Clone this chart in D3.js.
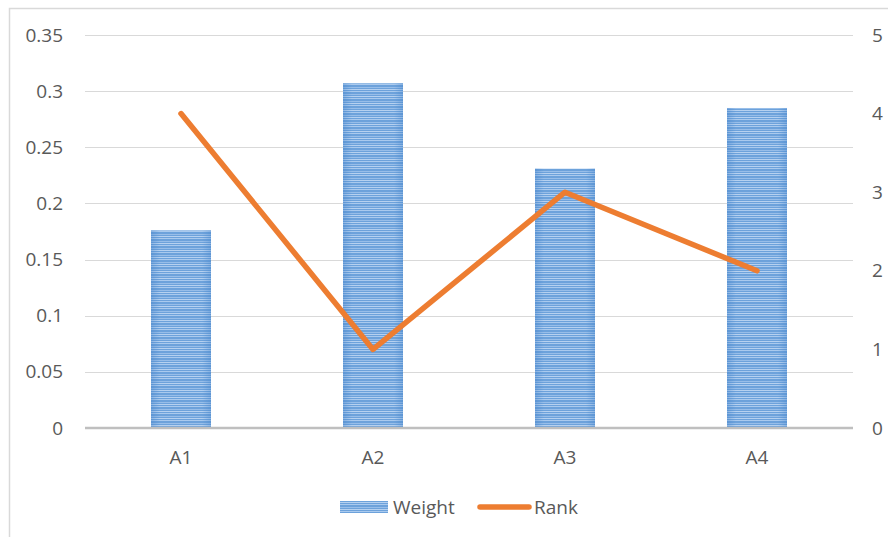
<!DOCTYPE html>
<html>
<head>
<meta charset="utf-8">
<script src="https://cdn.jsdelivr.net/npm/d3@7"></script>
<style>
  html, body { margin: 0; padding: 0; background: #fff; }
  svg { display: block; }
  text { font-family: "Open Sans", "Liberation Sans", sans-serif; fill: #595959; }
</style>
</head>
<body>
<svg id="chart" width="888" height="537"></svg>
<script>
// Data
const categories = ["A1", "A2", "A3", "A4"];
const weightValues = [0.176, 0.307, 0.231, 0.285];
const rankValues = [4, 1, 3, 2];
const leftTicks = [0, 0.05, 0.1, 0.15, 0.2, 0.25, 0.3, 0.35];
const rightTicks = [0, 1, 2, 3, 4, 5];
const seriesNames = ["Weight", "Rank"];

const svg = d3.select("#chart");
const W = 888, H = 537;
const plot = { left: 85, right: 853, top: 35, bottom: 428 };
const FONT = "19px";

// Chart area frame
svg.append("rect")
  .attr("x", 9.5).attr("y", 8.5)
  .attr("width", W + 20).attr("height", H + 20)
  .attr("fill", "#fff").attr("stroke", "#d9d9d9").attr("stroke-width", 1.5);

// Striped fill for the bars
const defs = svg.append("defs");
const pat = defs.append("pattern")
  .attr("id", "stripes").attr("patternUnits", "userSpaceOnUse")
  .attr("width", 8).attr("height", 7);
pat.append("rect").attr("width", 8).attr("height", 7).attr("fill", "#6da2db");
pat.append("rect").attr("y", 0).attr("width", 8).attr("height", 1).attr("fill", "#aacaee");
pat.append("rect").attr("y", 3).attr("width", 8).attr("height", 1).attr("fill", "#98bee9");
pat.append("rect").attr("y", 5).attr("width", 8).attr("height", 1).attr("fill", "#b6d1f0");
const edge = defs.append("linearGradient").attr("id", "edgeShade")
  .attr("x1", 0).attr("x2", 1).attr("y1", 0).attr("y2", 0);
edge.append("stop").attr("offset", 0).attr("stop-color", "#3f7fc8").attr("stop-opacity", 0.35);
edge.append("stop").attr("offset", 0.15).attr("stop-color", "#3f7fc8").attr("stop-opacity", 0);
edge.append("stop").attr("offset", 0.85).attr("stop-color", "#3f7fc8").attr("stop-opacity", 0);
edge.append("stop").attr("offset", 1).attr("stop-color", "#3f7fc8").attr("stop-opacity", 0.35);

// Scales
const x = d3.scaleBand().domain(categories).range([plot.left, plot.right]).paddingInner(0).paddingOuter(0);
const yL = d3.scaleLinear().domain([0, 0.35]).range([plot.bottom, plot.top]);
const yR = d3.scaleLinear().domain([0, 5]).range([plot.bottom, plot.top]);

// Gridlines
svg.append("g").selectAll("line").data(leftTicks.filter(d => d > 0)).join("line")
  .attr("x1", plot.left).attr("x2", plot.right)
  .attr("y1", d => Math.round(yL(d)) + 0.5).attr("y2", d => Math.round(yL(d)) + 0.5)
  .attr("stroke", "#d9d9d9").attr("stroke-width", 1.2);

function styleLabels(g) {
  g.select(".domain").remove();
  g.selectAll("text").style("font-size", FONT).attr("fill", "#595959")
    .style("font-family", '"Open Sans", sans-serif');
}

// Left axis labels
const leftAxis = d3.axisLeft(yL).tickValues(leftTicks).tickSize(0).tickPadding(0)
  .tickFormat(d => String(+d.toFixed(2)));
svg.append("g").attr("transform", "translate(63,0)").call(leftAxis).call(styleLabels);

// Right axis labels
const rightAxis = d3.axisRight(yR).tickValues(rightTicks).tickSize(0).tickPadding(0)
  .tickFormat(d3.format("d"));
svg.append("g").attr("transform", "translate(872,0)").call(rightAxis).call(styleLabels);

// Bars
const barW = 60;
const bars = svg.append("g");
bars.selectAll("rect.bar").data(weightValues).join("rect")
  .attr("class", "bar")
  .attr("x", (d, i) => x(categories[i]) + x.bandwidth() / 2 - barW / 2)
  .attr("width", barW)
  .attr("y", d => yL(d))
  .attr("height", d => yL(0) - yL(d))
  .attr("fill", "url(#stripes)");
bars.selectAll("rect.shade").data(weightValues).join("rect")
  .attr("class", "shade")
  .attr("x", (d, i) => x(categories[i]) + x.bandwidth() / 2 - barW / 2)
  .attr("width", barW)
  .attr("y", d => yL(d))
  .attr("height", d => yL(0) - yL(d))
  .attr("fill", "url(#edgeShade)");

// Category axis line
svg.append("line")
  .attr("x1", plot.left).attr("x2", plot.right)
  .attr("y1", plot.bottom).attr("y2", plot.bottom)
  .attr("stroke", "#bfbfbf").attr("stroke-width", 2.5);

// Category labels
const bottomAxis = d3.axisBottom(x).tickSize(0).tickPadding(0);
svg.append("g").attr("transform", `translate(0,${plot.bottom + 22})`).call(bottomAxis).call(styleLabels);

// Rank line
const line = d3.line()
  .x((d, i) => x(categories[i]) + x.bandwidth() / 2)
  .y(d => yR(d));
svg.append("path").datum(rankValues)
  .attr("d", line)
  .attr("fill", "none").attr("stroke", "#ed7d31")
  .attr("stroke-width", 5.5).attr("stroke-linecap", "round").attr("stroke-linejoin", "round");

// Legend
const lg = svg.append("g");
lg.append("rect").attr("x", 340).attr("y", 501).attr("width", 48).attr("height", 12)
  .attr("fill", "url(#stripes)");
lg.append("text").attr("x", 393).attr("y", 507).attr("dominant-baseline", "central")
  .style("font-size", FONT).text(seriesNames[0]);
lg.append("line").attr("x1", 480).attr("x2", 529).attr("y1", 507).attr("y2", 507)
  .attr("stroke", "#ed7d31").attr("stroke-width", 5.5).attr("stroke-linecap", "round");
lg.append("text").attr("x", 534).attr("y", 507).attr("dominant-baseline", "central")
  .style("font-size", FONT).text(seriesNames[1]);
</script>
</body>
</html>
